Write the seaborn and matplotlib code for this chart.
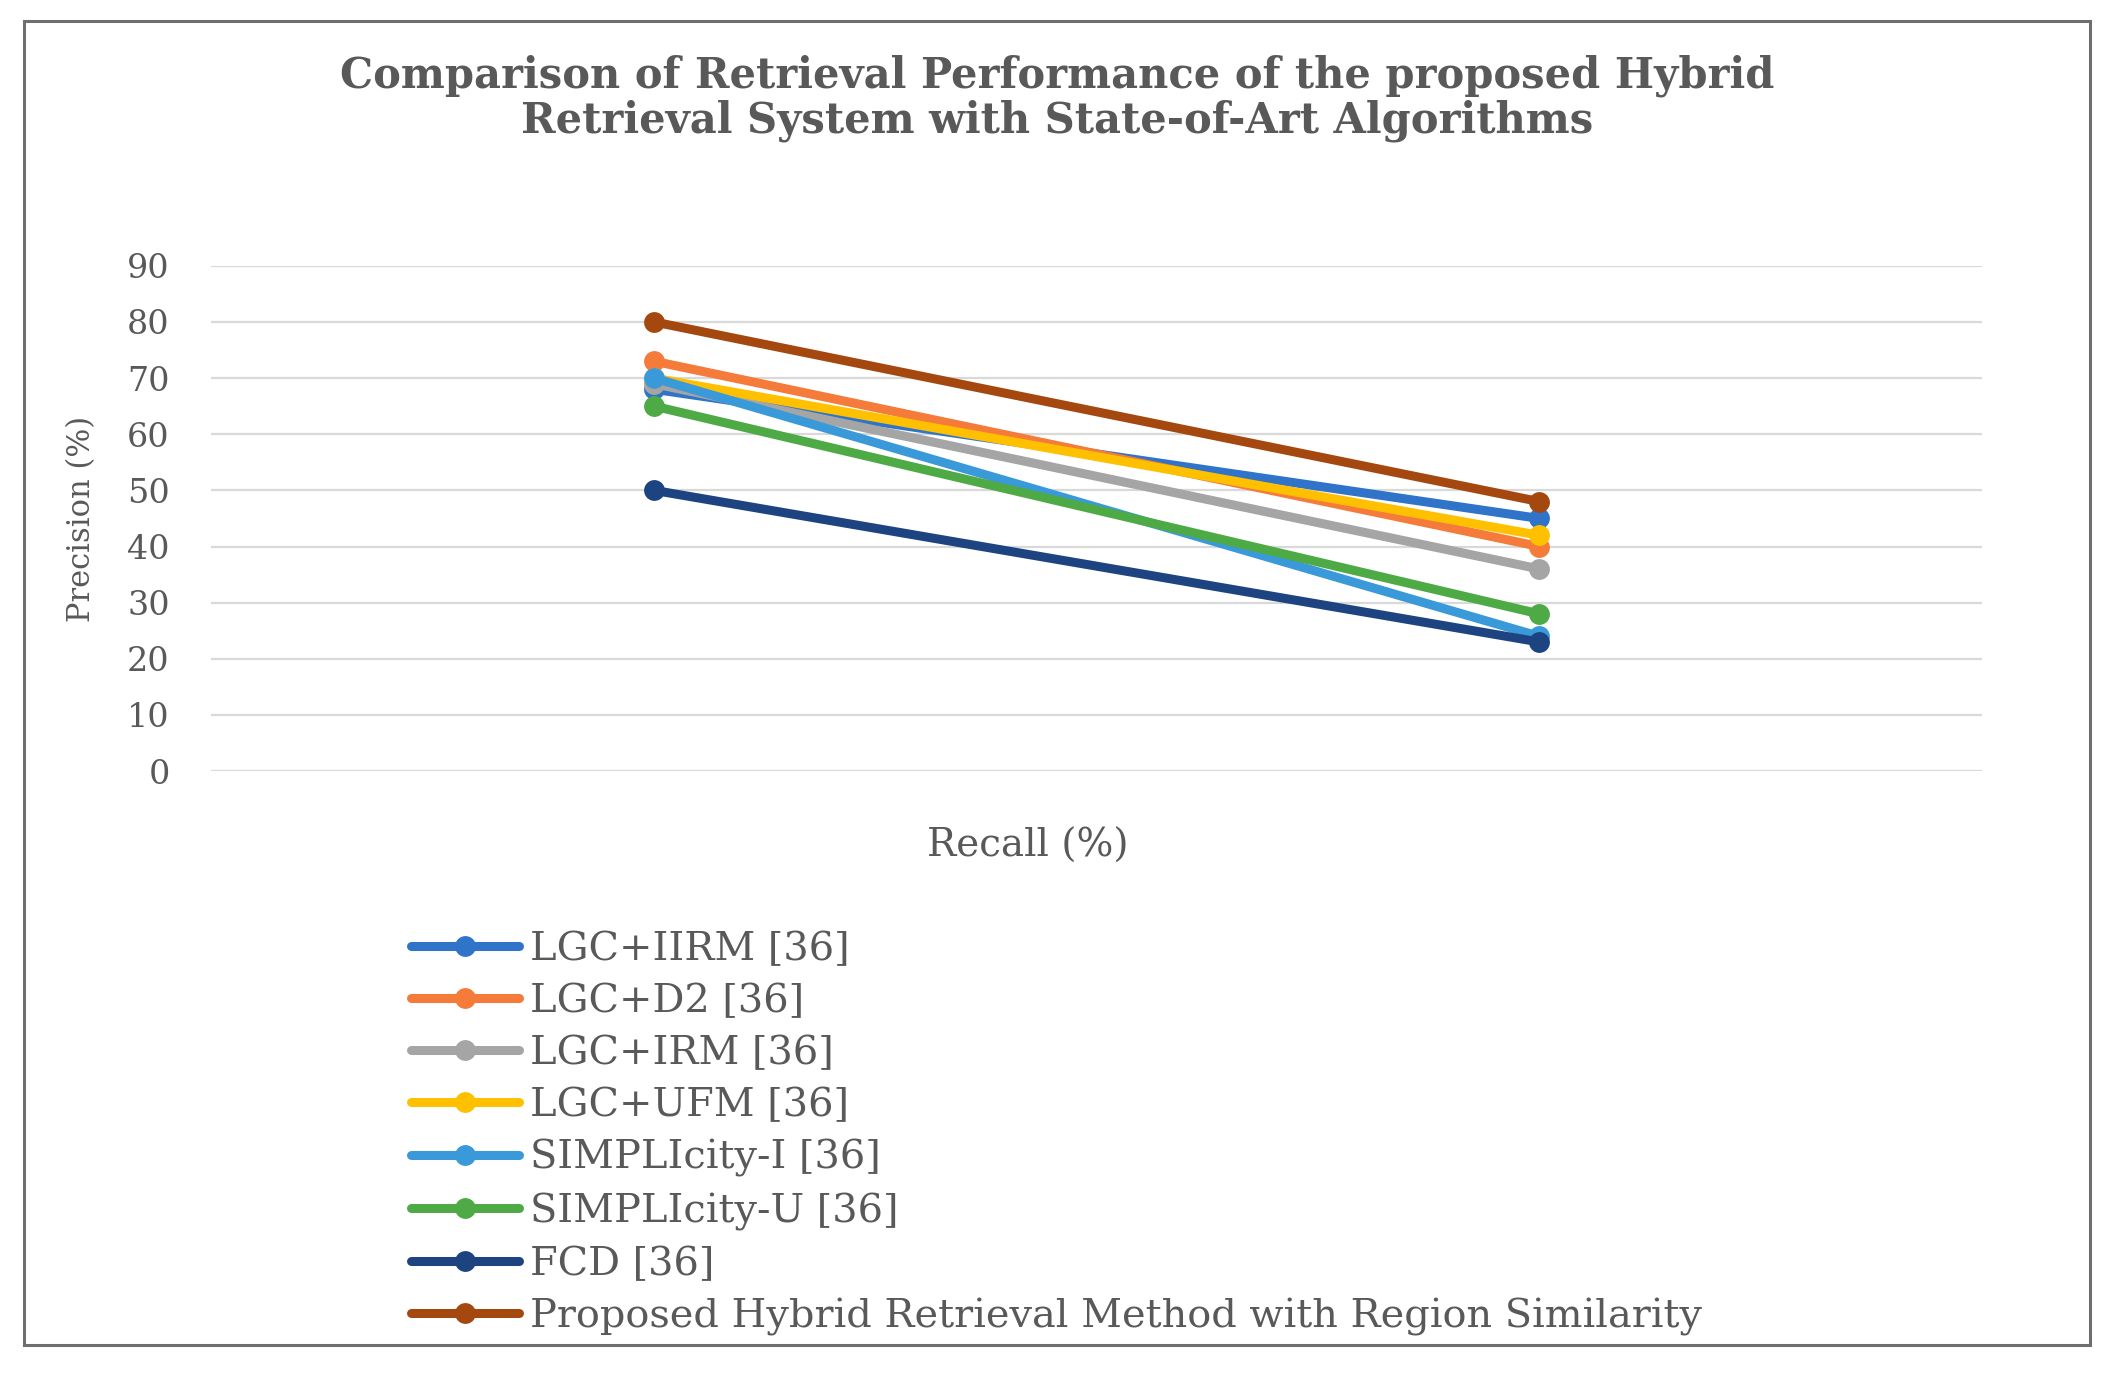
import matplotlib
matplotlib.use("Agg")
import matplotlib.pyplot as plt
from matplotlib.lines import Line2D
from matplotlib.patches import Rectangle
import seaborn as sns
import pandas as pd

# ---- data ----
methods = [
    "LGC+IIRM [36]",
    "LGC+D2 [36]",
    "LGC+IRM [36]",
    "LGC+UFM [36]",
    "SIMPLIcity-I [36]",
    "SIMPLIcity-U [36]",
    "FCD [36]",
    "Proposed Hybrid Retrieval Method with Region Similarity",
]
recall_points = [0, 1]
precision_first = [68, 73, 69, 70, 70, 65, 50, 80]
precision_second = [45, 40, 36, 42, 24, 28, 23, 48]
colors = ["#2F74C9", "#F47B3A", "#A5A5A5", "#FFC000",
          "#3A9AD9", "#4DAA45", "#1D4480", "#A5480F"]

rows = []
for m, a, b in zip(methods, precision_first, precision_second):
    rows.append({"method": m, "recall": recall_points[0], "precision": a})
    rows.append({"method": m, "recall": recall_points[1], "precision": b})
df = pd.DataFrame(rows)

sns.set_theme(style="white")
plt.rcParams["font.family"] = ["DejaVu Serif"]
text_color = "#595959"

fig = plt.figure(figsize=(21.14, 13.77), dpi=100)
ax = fig.add_axes([0.100, 0.440, 0.8375, 0.367])

sns.lineplot(data=df, x="recall", y="precision", hue="method",
             hue_order=methods, palette=colors, marker="o",
             markersize=15, markeredgewidth=0, linewidth=6.5,
             legend=False, ax=ax)

ax.set_xlim(-0.5, 1.5)
ax.set_ylim(0, 90)
ax.set_yticks(range(0, 91, 10))
ax.set_xticks([])
ax.grid(axis="y", color="#D9D9D9", linewidth=1.6)
ax.set_axisbelow(True)
for s in ax.spines.values():
    s.set_visible(False)
ax.tick_params(axis="y", length=0, pad=30, labelsize=24, labelcolor=text_color)

ax.set_ylabel("Precision (%)", fontsize=22, color=text_color)
ax.yaxis.set_label_coords(-0.0735, 0.5)
ax.yaxis.label.set_va("center")
ax.set_xlabel("Recall (%)", fontsize=28, color=text_color)
ax.xaxis.set_label_coords(0.461, -0.149)
ax.xaxis.label.set_va("center")

fig.text(0.5, 0.9285,
         "Comparison of Retrieval Performance of the proposed Hybrid\nRetrieval System with State-of-Art Algorithms",
         ha="center", va="center", fontsize=30, fontweight="bold",
         color=text_color, linespacing=1.06)

handles = [Line2D([0], [0], color=c, linewidth=6.5, marker="o",
                  markersize=15, markeredgewidth=0) for c in colors]
fig.legend(handles, methods, loc="upper left",
           bbox_to_anchor=(0.1945, 0.324), frameon=False,
           fontsize=28.7, handlelength=2.7, handletextpad=0.28,
           labelspacing=0.38, borderpad=0, borderaxespad=0,
           labelcolor=text_color)

fig.patches.append(Rectangle((0.0115, 0.0235), 0.977, 0.9615,
                             transform=fig.transFigure, fill=False,
                             edgecolor="#6E6E6E", linewidth=2.2))

fig.savefig("out.png", dpi=100, facecolor="white")
